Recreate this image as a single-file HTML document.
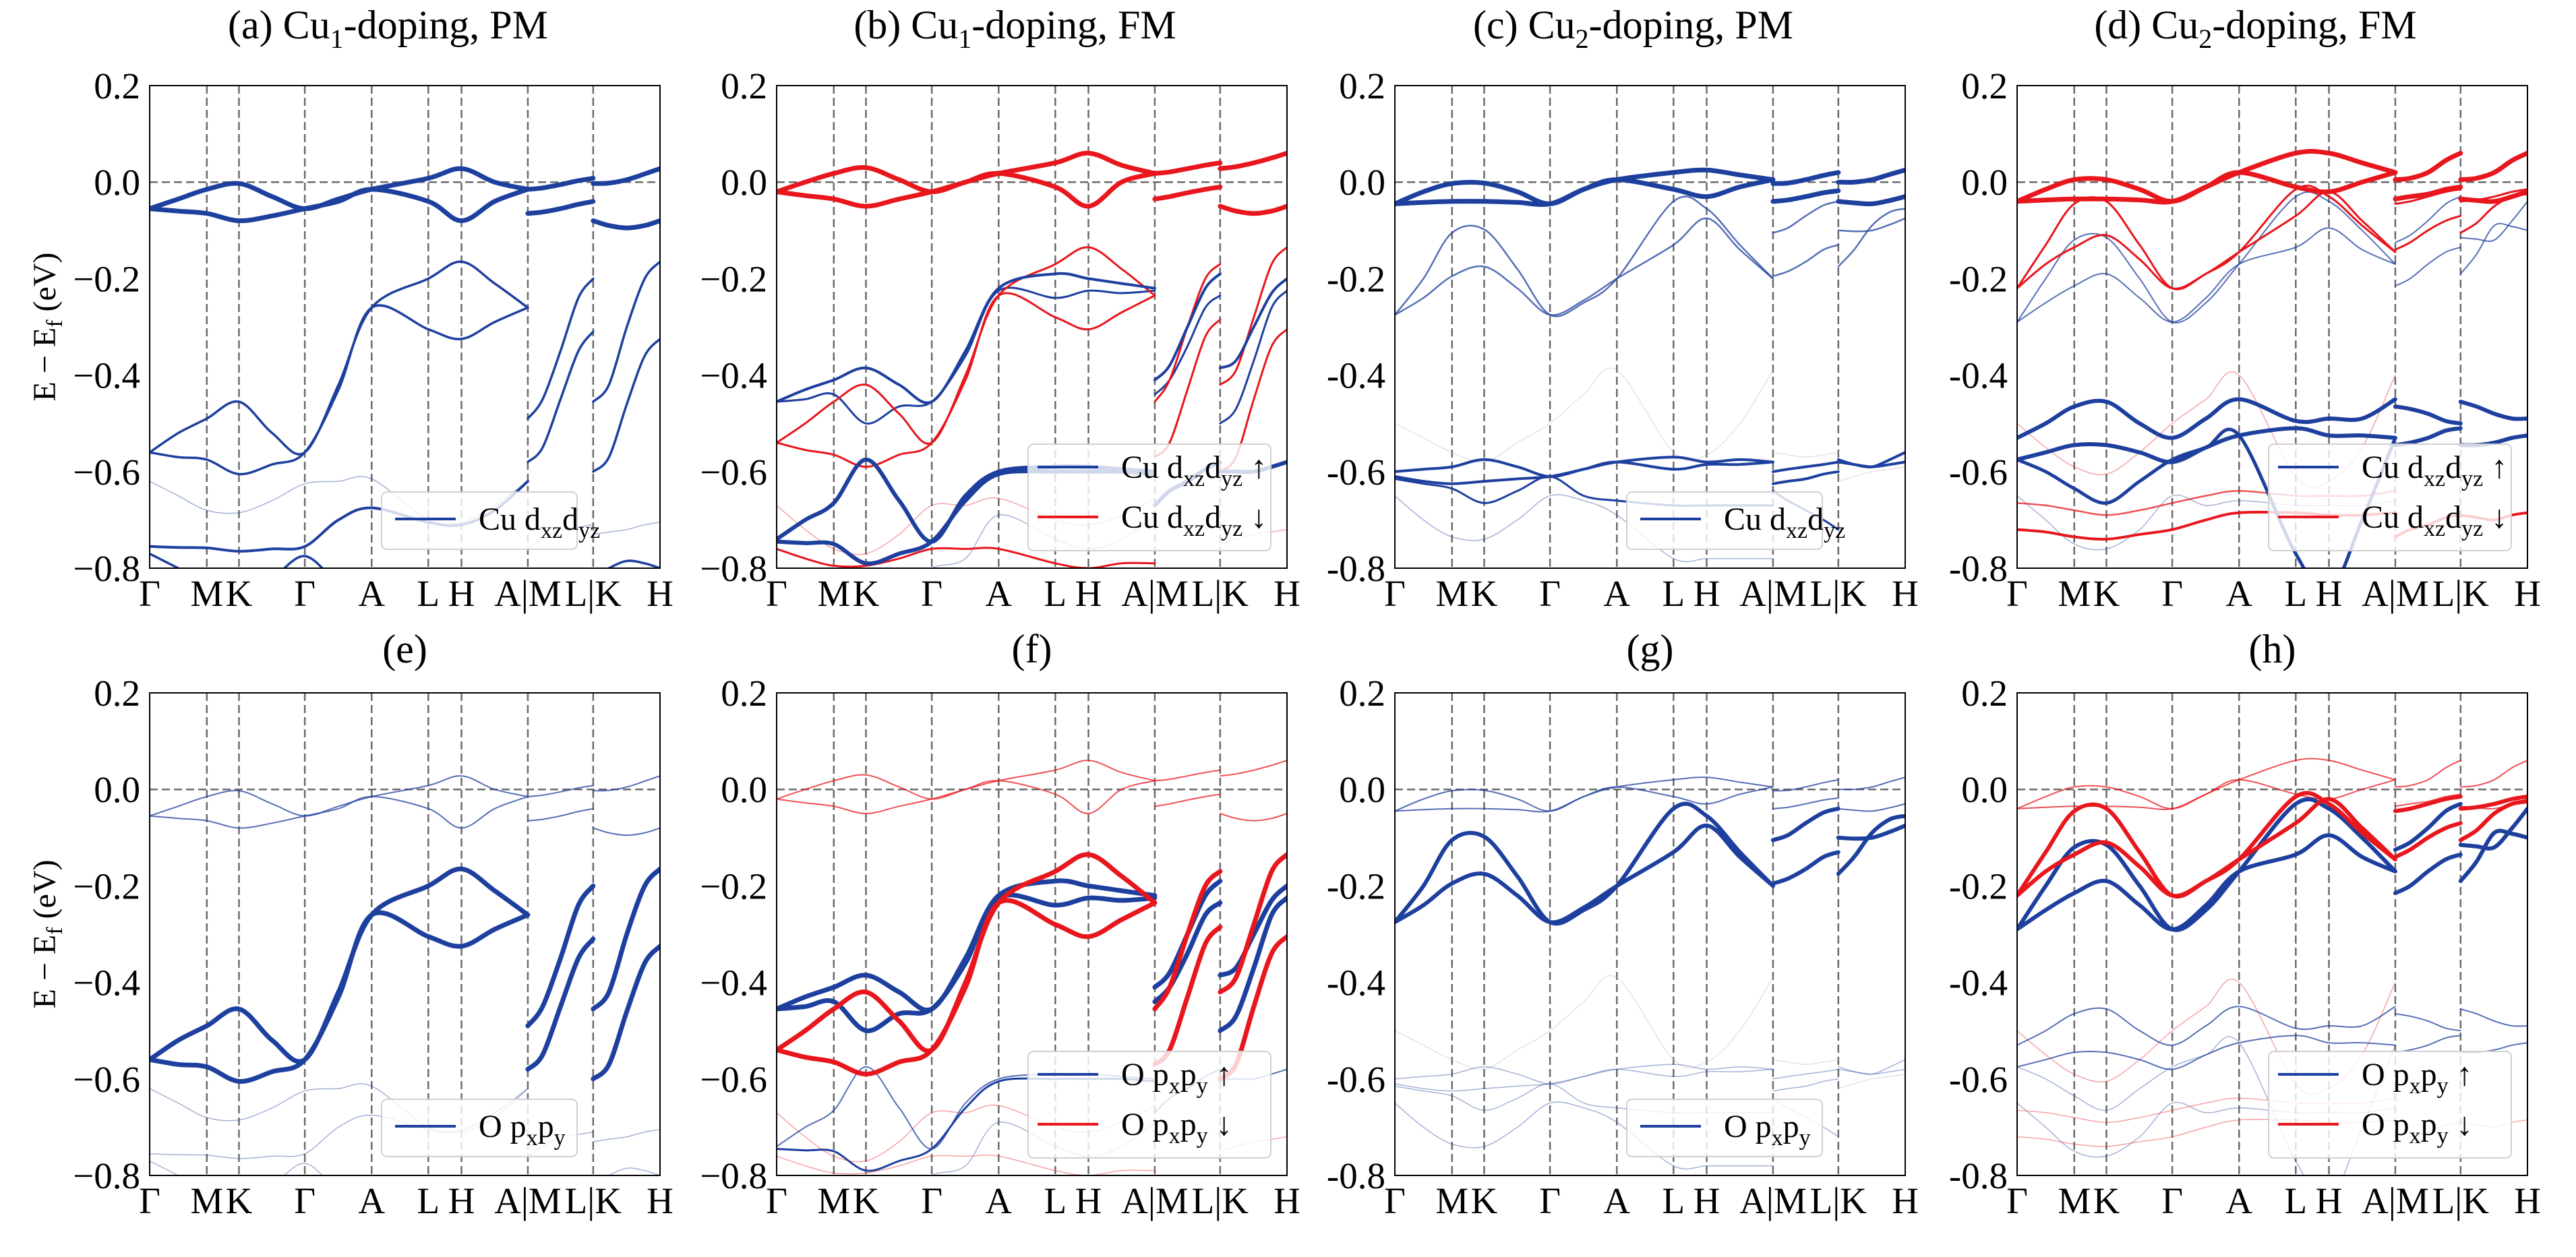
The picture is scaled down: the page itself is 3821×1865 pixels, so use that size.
<!DOCTYPE html>
<html><head><meta charset="utf-8"><style>
html,body{margin:0;padding:0;background:#fff;}
svg, svg text, svg tspan{font-family:"Liberation Serif","Times New Roman",serif;}
</style></head><body>
<svg id="fig" width="3821" height="1860" viewBox="0 0 3821 1860" xmlns="http://www.w3.org/2000/svg" font-family="Liberation Serif, serif"></svg>
<script>
// ---- data ----
const kLabels=["Γ","M","K","Γ","A","L","H","A|M","L|K","H"];
const kTicks=[0,.112,.175,.304,.435,.546,.611,.741,.869,1];
const yTicks=[0.2,0.0,-0.2,-0.4,-0.6,-0.8];
const k1=[0,.056,.112,.175,.24,.304,.37,.435,.546,.611,.676,.741];
const k2=[.741,.77,.805,.84,.869];
const k3=[.869,.9,.935,.97,1];
const S1=[
{e:[-0.055,-0.035,-0.015,-0.003,-0.03,-0.055,-0.035,-0.015,0.008,0.028,0.0,-0.015],m:[-0.015,-0.012,-0.005,0.003,0.008],k:[-0.003,-0.002,0.005,0.017,0.028]},
{e:[-0.055,-0.06,-0.065,-0.08,-0.07,-0.055,-0.04,-0.015,-0.04,-0.08,-0.04,-0.015],m:[-0.065,-0.062,-0.055,-0.046,-0.04],k:[-0.08,-0.09,-0.095,-0.09,-0.08]},
{e:[-0.56,-0.52,-0.49,-0.455,-0.52,-0.56,-0.42,-0.26,-0.2,-0.165,-0.21,-0.26],m:[-0.49,-0.45,-0.35,-0.24,-0.2],k:[-0.455,-0.42,-0.3,-0.2,-0.165]},
{e:[-0.56,-0.57,-0.575,-0.605,-0.585,-0.56,-0.43,-0.26,-0.305,-0.325,-0.29,-0.26],m:[-0.58,-0.55,-0.45,-0.35,-0.31],k:[-0.6,-0.57,-0.46,-0.36,-0.325]},
{e:[-0.62,-0.65,-0.68,-0.685,-0.66,-0.625,-0.62,-0.615,-0.7,-0.705,-0.67,-0.62],m:[-0.76,-0.74,-0.72,-0.715,-0.71],k:[-0.73,-0.725,-0.72,-0.71,-0.705]},
{e:[-0.755,-0.757,-0.758,-0.765,-0.76,-0.755,-0.7,-0.675,-0.705,-0.71,-0.68,-0.62],m:null,k:null},
{e:[-0.77,-0.8,-0.83,-0.85,-0.82,-0.775,-0.83,-0.85,-0.85,-0.81,-0.85,-0.85],m:null,k:[-0.82,-0.8,-0.785,-0.79,-0.8]}];
const S2d=[
{e:[-0.02,0.0,0.018,0.03,0.005,-0.02,0.0,0.018,0.04,0.06,0.035,0.018],m:[0.018,0.021,0.028,0.035,0.04],k:[0.028,0.032,0.04,0.05,0.06]},
{e:[-0.02,-0.028,-0.035,-0.05,-0.035,-0.02,0.0,0.018,-0.01,-0.05,0.0,0.018],m:[-0.035,-0.03,-0.022,-0.015,-0.01],k:[-0.05,-0.06,-0.065,-0.06,-0.05]},
{e:[-0.54,-0.5,-0.455,-0.42,-0.48,-0.54,-0.4,-0.235,-0.17,-0.135,-0.18,-0.235],m:[-0.455,-0.41,-0.3,-0.2,-0.17],k:[-0.42,-0.39,-0.28,-0.17,-0.135]},
{e:[-0.54,-0.555,-0.565,-0.59,-0.565,-0.54,-0.41,-0.235,-0.28,-0.305,-0.27,-0.235],m:[-0.57,-0.54,-0.43,-0.32,-0.285],k:[-0.6,-0.57,-0.45,-0.34,-0.305]},
{e:[-0.67,-0.72,-0.76,-0.77,-0.73,-0.67,-0.67,-0.655,-0.7,-0.71,-0.69,-0.655],m:null,k:[-0.75,-0.74,-0.73,-0.725,-0.72]},
{e:[-0.76,-0.78,-0.795,-0.795,-0.78,-0.76,-0.76,-0.76,-0.79,-0.8,-0.79,-0.79],m:null,k:null}];
const S2u=[
{e:[-0.455,-0.43,-0.41,-0.385,-0.42,-0.455,-0.35,-0.22,-0.19,-0.2,-0.21,-0.22],m:[-0.41,-0.38,-0.3,-0.22,-0.19],k:[-0.385,-0.37,-0.3,-0.23,-0.2]},
{e:[-0.455,-0.45,-0.44,-0.5,-0.465,-0.455,-0.36,-0.225,-0.24,-0.225,-0.23,-0.225],m:[-0.44,-0.41,-0.34,-0.26,-0.235],k:[-0.5,-0.47,-0.37,-0.26,-0.225]},
{e:[-0.74,-0.7,-0.665,-0.575,-0.66,-0.745,-0.65,-0.6,-0.59,-0.59,-0.595,-0.6],m:[-0.67,-0.64,-0.62,-0.595,-0.58],k:[-0.6,-0.6,-0.6,-0.59,-0.58]},
{e:[-0.745,-0.748,-0.75,-0.79,-0.77,-0.745,-0.66,-0.605,-0.6,-0.6,-0.6,-0.605],m:null,k:null},
{e:[-0.8,-0.85,-0.9,-0.9,-0.85,-0.8,-0.78,-0.69,-0.74,-0.76,-0.74,-0.69],m:null,k:null}];
const S3=[
{e:[-0.045,-0.02,-0.003,-0.002,-0.02,-0.045,-0.015,0.005,0.02,0.025,0.015,0.005],m:[-0.003,-0.002,0.005,0.014,0.02],k:[0.0,0.0,0.005,0.016,0.025]},
{e:[-0.045,-0.042,-0.04,-0.04,-0.042,-0.045,-0.015,0.005,-0.015,-0.03,-0.01,0.005],m:[-0.04,-0.037,-0.03,-0.022,-0.018],k:[-0.04,-0.043,-0.045,-0.038,-0.03]},
{e:[-0.275,-0.2,-0.105,-0.098,-0.18,-0.275,-0.25,-0.2,-0.04,-0.055,-0.13,-0.2],m:[-0.105,-0.095,-0.07,-0.048,-0.04],k:[-0.1,-0.102,-0.1,-0.088,-0.075]},
{e:[-0.275,-0.24,-0.195,-0.175,-0.22,-0.275,-0.245,-0.2,-0.13,-0.075,-0.14,-0.2],m:[-0.195,-0.185,-0.165,-0.14,-0.13],k:[-0.175,-0.14,-0.09,-0.062,-0.055]},
{e:[-0.5,-0.53,-0.56,-0.58,-0.54,-0.5,-0.44,-0.39,-0.56,-0.565,-0.5,-0.39],m:[-0.56,-0.565,-0.57,-0.565,-0.56],k:[-0.62,-0.61,-0.6,-0.595,-0.59]},
{e:[-0.6,-0.595,-0.59,-0.575,-0.59,-0.61,-0.595,-0.58,-0.57,-0.58,-0.575,-0.58],m:[-0.6,-0.595,-0.59,-0.585,-0.58],k:[-0.575,-0.585,-0.59,-0.575,-0.56]},
{e:[-0.61,-0.62,-0.625,-0.62,-0.615,-0.61,-0.595,-0.58,-0.595,-0.585,-0.585,-0.58],m:[-0.625,-0.62,-0.615,-0.605,-0.6],k:[-0.58,-0.585,-0.59,-0.585,-0.58]},
{e:[-0.615,-0.625,-0.635,-0.665,-0.64,-0.61,-0.65,-0.66,-0.67,-0.67,-0.67,-0.67],m:[-0.64,-0.66,-0.68,-0.7,-0.72],k:null},
{e:[-0.65,-0.7,-0.735,-0.74,-0.7,-0.65,-0.66,-0.69,-0.78,-0.78,-0.78,-0.78],m:null,k:null}];
const S4d=[
{e:[-0.04,-0.015,0.005,0.005,-0.015,-0.04,-0.01,0.02,0.06,0.06,0.04,0.02],m:[0.005,0.008,0.02,0.045,0.06],k:[0.005,0.008,0.02,0.045,0.06]},
{e:[-0.04,-0.037,-0.035,-0.035,-0.037,-0.04,-0.01,0.02,-0.01,-0.02,0.0,0.02],m:[-0.035,-0.03,-0.025,-0.015,-0.01],k:[-0.035,-0.038,-0.04,-0.03,-0.02]},
{e:[-0.22,-0.13,-0.045,-0.04,-0.13,-0.22,-0.19,-0.145,-0.015,-0.03,-0.09,-0.145],m:[-0.045,-0.04,-0.03,-0.02,-0.015],k:[-0.105,-0.085,-0.05,-0.03,-0.025]},
{e:[-0.22,-0.17,-0.135,-0.11,-0.16,-0.22,-0.19,-0.145,-0.07,-0.02,-0.08,-0.145],m:[-0.14,-0.125,-0.1,-0.08,-0.07],k:[-0.04,-0.037,-0.03,-0.02,-0.015]},
{e:[-0.72,-0.725,-0.735,-0.74,-0.73,-0.72,-0.7,-0.685,-0.685,-0.69,-0.69,-0.685],m:[-0.735,-0.72,-0.71,-0.695,-0.69],k:[-0.69,-0.695,-0.7,-0.69,-0.685]},
{e:[-0.5,-0.55,-0.59,-0.605,-0.56,-0.5,-0.45,-0.4,-0.61,-0.62,-0.55,-0.4],m:null,k:null},
{e:[-0.665,-0.67,-0.68,-0.69,-0.68,-0.665,-0.65,-0.64,-0.65,-0.65,-0.65,-0.64],m:null,k:null}];
const S4u=[
{e:[-0.29,-0.2,-0.12,-0.115,-0.2,-0.29,-0.25,-0.17,-0.03,-0.04,-0.1,-0.17],m:[-0.125,-0.11,-0.08,-0.045,-0.03],k:[-0.115,-0.118,-0.12,-0.08,-0.04]},
{e:[-0.29,-0.25,-0.215,-0.19,-0.24,-0.29,-0.24,-0.17,-0.135,-0.095,-0.14,-0.17],m:[-0.215,-0.2,-0.17,-0.145,-0.135],k:[-0.19,-0.15,-0.09,-0.092,-0.1]},
{e:[-0.53,-0.5,-0.465,-0.455,-0.5,-0.53,-0.49,-0.45,-0.495,-0.49,-0.49,-0.45],m:[-0.465,-0.47,-0.48,-0.495,-0.5],k:[-0.455,-0.465,-0.48,-0.49,-0.49]},
{e:[-0.575,-0.56,-0.545,-0.545,-0.56,-0.58,-0.55,-0.525,-0.51,-0.525,-0.525,-0.53],m:[-0.545,-0.54,-0.53,-0.515,-0.51],k:[-0.545,-0.545,-0.54,-0.53,-0.525]},
{e:[-0.575,-0.6,-0.635,-0.665,-0.62,-0.575,-0.55,-0.525,-0.77,-0.85,-0.7,-0.53],m:null,k:null},
{e:[-0.65,-0.7,-0.75,-0.76,-0.72,-0.65,-0.67,-0.66,-0.67,-0.67,-0.67,-0.66],m:null,k:null}];
const BLUE="#1d3f9e", RED="#e8161d", GRAY="#b8b8b8";
const panels=[
 {id:"a",x:222,y:127,title:["(a) Cu","1","-doping, PM"],minus:"−",ylab:true,layers:[{s:S1,c:BLUE,w:[7,7,3.5,3.5,1.5,4,3.5]}],leg:[["Cu d","xz","d","yz",""]]},
 {id:"b",x:1152,y:127,title:["(b) Cu","1","-doping, FM"],minus:"−",layers:[{s:S2u,c:BLUE,w:[4,3,6,6,1.5]},{s:S2d,c:RED,w:[7,7,3,3,1.5,3]}],leg:[["Cu d","xz","d","yz"," ↑"],["Cu d","xz","d","yz"," ↓"]]},
 {id:"c",x:2069,y:127,title:["(c) Cu","2","-doping, PM"],minus:"-",layers:[{s:S3,c:BLUE,w:[7,7,2.5,2.5,1.5,4,4,3,1.5]}],leg:[["Cu d","xz","d","yz",""]]},
 {id:"d",x:2992,y:127,title:["(d) Cu","2","-doping, FM"],minus:"-",layers:[{s:S4u,c:BLUE,w:[2,2,6,6,5,1.5]},{s:S4d,c:RED,w:[7,7,3,3,4,1.5,2.5]}],leg:[["Cu d","xz","d","yz"," ↑"],["Cu d","xz","d","yz"," ↓"]]},
 {id:"e",x:222,y:1028,title:["(e)","",""],minus:"−",ylab:true,layers:[{s:S1,c:BLUE,w:[2,2,7,7,1.5,1.5,1.5]}],leg:[["O p","x","p","y",""]]},
 {id:"f",x:1152,y:1028,title:["(f)","",""],minus:"−",layers:[{s:S2u,c:BLUE,w:[7,7,2,3,1.5]},{s:S2d,c:RED,w:[2,2,7,7,1.5,1.5]}],leg:[["O p","x","p","y"," ↑"],["O p","x","p","y"," ↓"]]},
 {id:"g",x:2069,y:1028,title:["(g)","",""],minus:"-",layers:[{s:S3,c:BLUE,w:[2,2,6,6,1.5,1.5,1.5,1.5,1.5]}],leg:[["O p","x","p","y",""]]},
 {id:"h",x:2992,y:1028,title:["(h)","",""],minus:"-",layers:[{s:S4u,c:BLUE,w:[6,6,2,2,1.5,1.5]},{s:S4d,c:RED,w:[2,2,6,6,1.5,1.5,1.5]}],leg:[["O p","x","p","y"," ↑"],["O p","x","p","y"," ↓"]]}
];
// ---- drawing ----
const NS="http://www.w3.org/2000/svg";
const fig=document.getElementById("fig");
const PW=757, PH=716;
const FONT="Liberation Serif, serif";
function mk(tag,attrs,parent){const el=document.createElementNS(NS,tag);for(const k in attrs)el.setAttribute(k,attrs[k]);if(tag==="text")el.setAttribute("font-family",FONT);(parent||fig).appendChild(el);return el;}
function spline(pts){
 let d="M"+pts[0][0].toFixed(1)+","+pts[0][1].toFixed(1);
 for(let i=0;i<pts.length-1;i++){
  const p0=pts[Math.max(0,i-1)],p1=pts[i],p2=pts[i+1],p3=pts[Math.min(pts.length-1,i+2)];
  const c1=[p1[0]+(p2[0]-p0[0])/6,p1[1]+(p2[1]-p0[1])/6];
  const c2=[p2[0]-(p3[0]-p1[0])/6,p2[1]-(p3[1]-p1[1])/6];
  d+="C"+c1[0].toFixed(1)+","+c1[1].toFixed(1)+" "+c2[0].toFixed(1)+","+c2[1].toFixed(1)+" "+p2[0].toFixed(1)+","+p2[1].toFixed(1);
 }
 return d;
}
panels.forEach(P=>{
 const X=f=>P.x+f*PW;
 const Y=e=>P.y+(0.2-e)/1.0*PH;
 const g=mk("g",{});
 
 
 const t=mk("text",{x:P.x+PW/2-(P.title[1]?25:0),y:P.y-(P.id<"e"?70:45),"text-anchor":"middle","font-size":60},g);
 
 
 t.appendChild(document.createTextNode(P.title[0]));
 if(P.title[1]){const s=mk("tspan",{dy:14,"font-size":40},t);s.textContent=P.title[1];const r=mk("tspan",{dy:-14},t);r.textContent=P.title[2];}
 const cp=mk("clipPath",{id:"clip"+P.id},g);mk("rect",{x:P.x,y:P.y,width:PW,height:PH},cp);
 const plot=mk("g",{"clip-path":"url(#clip"+P.id+")"},g);
 kTicks.slice(1,-1).forEach((f,i)=>{const l=mk("line",{x1:X(f),x2:X(f),y1:P.y,y2:P.y+PH,stroke:"#6a6a6a","stroke-width":2.5,"stroke-dasharray":"12,6"},plot);
  });
 const z=mk("line",{x1:P.x,x2:P.x+PW,y1:Y(0),y2:Y(0),stroke:"#6a6a6a","stroke-width":2.5,"stroke-dasharray":"12,6"},plot);
 
 const items=[];
 P.layers.forEach(L=>L.s.forEach((b,i)=>items.push({b:b,c:(L.s===S3&&i===4)?GRAY:L.c,w:L.w[i]})));
 items.sort((a,b)=>a.w-b.w);
 items.forEach(it=>{
  const op=it.w<2?0.4:(it.w<3?0.75:1);
  [[k1,it.b.e],[k2,it.b.m],[k3,it.b.k]].forEach(([ks,es])=>{
   if(!es)return;
   const pts=ks.map((f,j)=>[X(f),Y(es[j])]);
   const p=mk("path",{d:spline(pts),fill:"none",stroke:it.c,"stroke-width":it.w,"stroke-opacity":op,"stroke-linecap":"round"},plot);
   
   
  });
 });
 const fr=mk("rect",{x:P.x,y:P.y,width:PW,height:PH,fill:"none",stroke:"#000","stroke-width":2},g);
 
 yTicks.forEach(v=>{
  const s=(v<0?P.minus:"")+Math.abs(v).toFixed(1);
  const tx=mk("text",{x:P.x-14,y:Y(v)+19,"text-anchor":"end","font-size":55},g);
  
  tx.textContent=s;
 });
 kTicks.forEach((f,i)=>{
  const tx=mk("text",{x:X(f),y:P.y+PH+56,"text-anchor":"middle","font-size":55},g);
  
  tx.textContent=kLabels[i];
 });
 if(P.ylab){
  const yl=mk("text",{x:0,y:0,transform:"translate(82,"+(P.y+PH/2)+") rotate(-90)","text-anchor":"middle","font-size":48},g);
  
  yl.appendChild(document.createTextNode("E − E"));const s=mk("tspan",{dy:10,"font-size":34},yl);s.textContent="f";const r=mk("tspan",{dy:-10},yl);r.textContent=" (eV)";
 }
 const two=P.leg.length===2;
 const lx=two?P.x+373:P.x+344, ly=two?P.y+532:P.y+603, lw=two?360:290, lh=two?158:85;
 const lg=mk("g",{},g);
 
 mk("rect",{x:lx,y:ly,width:lw,height:lh,rx:8,fill:"#fff","fill-opacity":0.8,stroke:"#d0d0d0","stroke-width":2},lg);
 P.leg.forEach((L,i)=>{
  const cy=two?ly+34+i*74:ly+40;
  const col=i===0?BLUE:RED;
  const ln=mk("line",{x1:lx+(two?14:20),x2:lx+(two?104:110),y1:cy,y2:cy,stroke:col,"stroke-width":4},lg);
  
  const tx=mk("text",{x:lx+(two?138:144),y:cy+16,"font-size":48},lg);
  
  tx.appendChild(document.createTextNode(L[0]));
  let s=mk("tspan",{dy:12,"font-size":34},tx);s.textContent=L[1];
  s=mk("tspan",{dy:-12},tx);s.textContent=L[2];
  s=mk("tspan",{dy:12,"font-size":34},tx);s.textContent=L[3];
  if(L[4]){s=mk("tspan",{dy:-12},tx);s.textContent=L[4];}
 });
});
</script>
</body></html>
